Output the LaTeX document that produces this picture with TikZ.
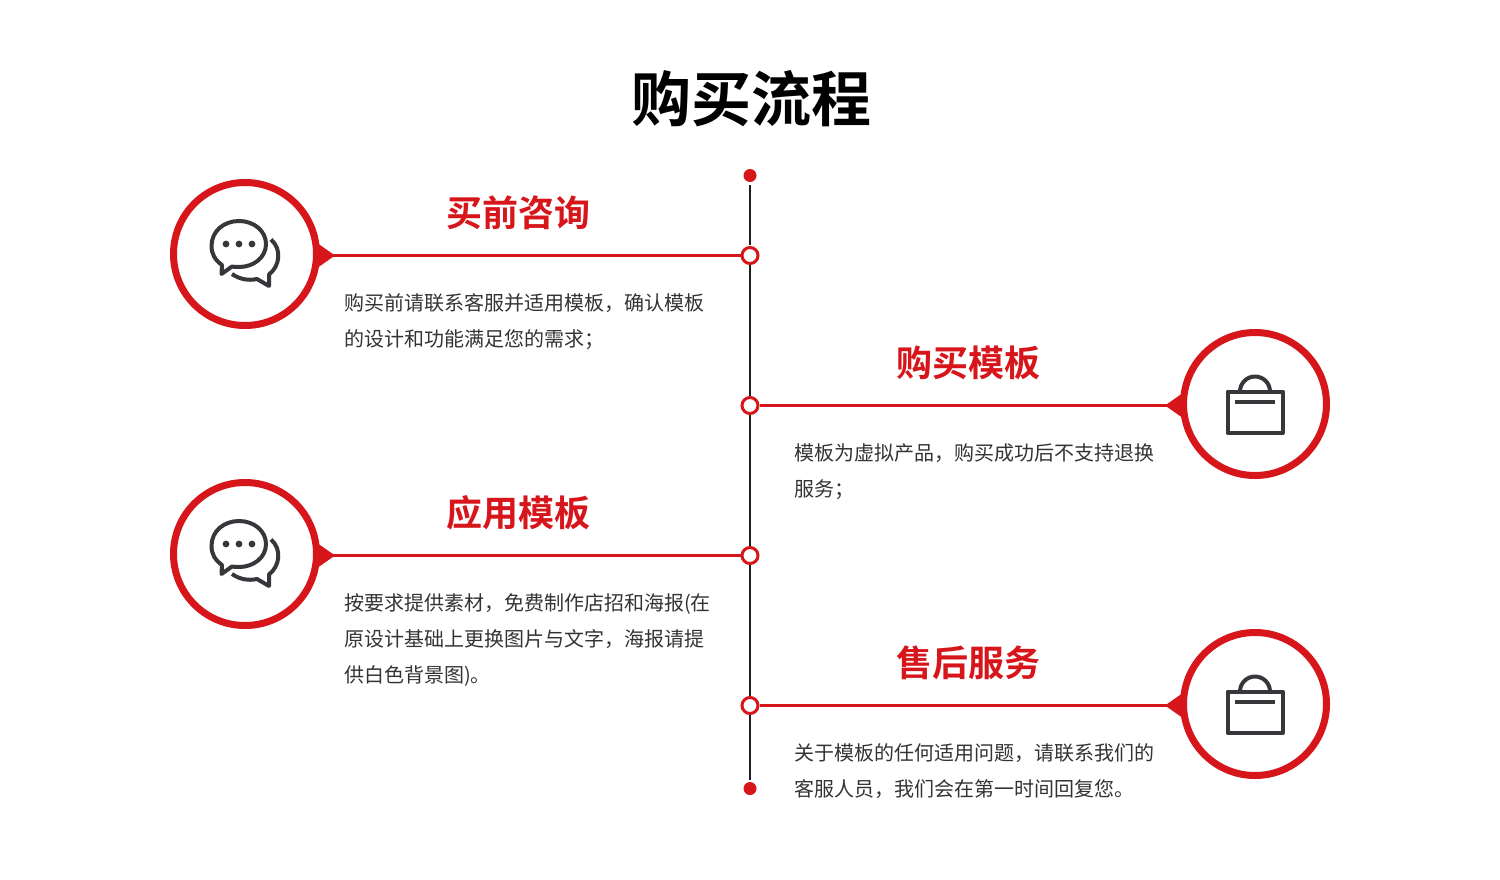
\documentclass[tikz,border=0pt]{standalone}
\usepackage{fontspec}
\setmainfont{Noto Sans CJK SC}[BoldFont={Noto Sans CJK SC Bold}]
\definecolor{brand}{HTML}{D7161B}
\definecolor{ink}{HTML}{333333}
\definecolor{iconink}{HTML}{36373B}
\tikzset{
  titletext/.style={font=\fontsize{60}{60}\selectfont\bfseries,text=black,inner sep=0pt},
  headtext/.style={font=\fontsize{36}{36}\selectfont\bfseries,text=brand,inner sep=0pt},
  bodytext/.style={font=\fontsize{20}{36}\selectfont,text=ink,inner sep=0pt,align=left,anchor=north west},
  ring/.style={circle,draw=brand,line width=7pt,fill=white,minimum size=143pt,inner sep=0pt},
  joint/.style={circle,draw=brand,line width=3pt,fill=white,minimum size=16pt,inner sep=0pt},
  enddot/.style={circle,fill=brand,minimum size=13pt,inner sep=0pt},
  spine/.style={draw=black!88,line width=2pt},
  branch/.style={draw=brand,line width=3pt},
  icon/.style={draw=iconink,line width=4pt,line join=round},
}
\newcommand{\chaticon}[1]{%
  \begin{scope}[shift={(#1)}]
    \draw[icon] (-23.5,20) -- (-23,11)
      .. controls (-30,6) and (-33.5,0) .. (-33.5,-8)
      .. controls (-33.5,-23) and (-21,-33) .. (-6,-33)
      .. controls (9,-33) and (21,-23) .. (21,-10)
      .. controls (21,4) and (8,13) .. (-6,13)
      .. controls (-9,13) and (-11,13) .. (-13,12.5) -- cycle;
    \fill[iconink] (-19,-10) circle (3.4) (-6,-10) circle (3.4) (7,-10) circle (3.4);
    \draw[icon] (26,-14.5) .. controls (37,-5) and (35,12) .. (24,20.5)
      -- (24,32) -- (12,25) .. controls (3,27) and (-6,25) .. (-13,20);
  \end{scope}}
\newcommand{\bagicon}[1]{%
  \begin{scope}[shift={(#1)}]
    \draw[icon] (-27.5,-12.5) rectangle (27.5,29);
    \draw[icon] (-20,-2) -- (20,-2);
    \draw[icon] (-15,-12.5) arc[start angle=180,end angle=360,radius=15];
  \end{scope}}
\begin{document}
\begin{tikzpicture}[x=1pt,y=-1pt]
\useasboundingbox (0,0) rectangle (1500,879);
\node[titletext] (title) at (751,99) {购买流程};
% nodes
\node[enddot] (top) at (750,175.5) {};
\node[enddot] (bottom) at (750,788.5) {};
\node[joint] (j1) at (750,255.5) {};
\node[joint] (j2) at (750,405.5) {};
\node[joint] (j3) at (750,555.5) {};
\node[joint] (j4) at (750,705.5) {};
\draw[spine,shorten <=3pt,shorten >=1.5pt] (top) -- (j1);
\draw[spine] (j1) -- (j2);
\draw[spine] (j2) -- (j3);
\draw[spine] (j3) -- (j4);
\draw[spine,shorten >=1.5pt] (j4) -- (bottom);
% triangles under rings
\fill[brand] (315,241.5) -- (335,255.5) -- (315,269.5) -- cycle;
\fill[brand] (315,541.5) -- (335,555.5) -- (315,569.5) -- cycle;
\fill[brand] (1185,391.5) -- (1165,405.5) -- (1185,419.5) -- cycle;
\fill[brand] (1185,691.5) -- (1165,705.5) -- (1185,719.5) -- cycle;
\node[ring] (r1) at (245,254) {};
\node[ring] (r2) at (1255,404) {};
\node[ring] (r3) at (245,554) {};
\node[ring] (r4) at (1255,704) {};
\draw[branch] (r1.east |- j1) -- (j1);
\draw[branch] (j2) -- (r2.west |- j2);
\draw[branch] (r3.east |- j3) -- (j3);
\draw[branch] (j4) -- (r4.west |- j4);
\chaticon{245,254}
\chaticon{245,554}
\bagicon{1255,404}
\bagicon{1255,704}
\node[headtext] (h1) at (518,213) {买前咨询};
\node[headtext] (h2) at (968,363) {购买模板};
\node[headtext] (h3) at (518,513) {应用模板};
\node[headtext] (h4) at (968,663) {售后服务};
\node[bodytext] (b1) at (344,293) {购买前请联系客服并适用模板，确认模板\\的设计和功能满足您的需求；};
\node[bodytext] (b2) at (794,443) {模板为虚拟产品，购买成功后不支持退换\\服务；};
\node[bodytext] (b3) at (344,593) {按要求提供素材，免费制作店招和海报(在\\原设计基础上更换图片与文字，海报请提\\供白色背景图)。};
\node[bodytext] (b4) at (794,743) {关于模板的任何适用问题，请联系我们的\\客服人员，我们会在第一时间回复您。};
\end{tikzpicture}
\end{document}
